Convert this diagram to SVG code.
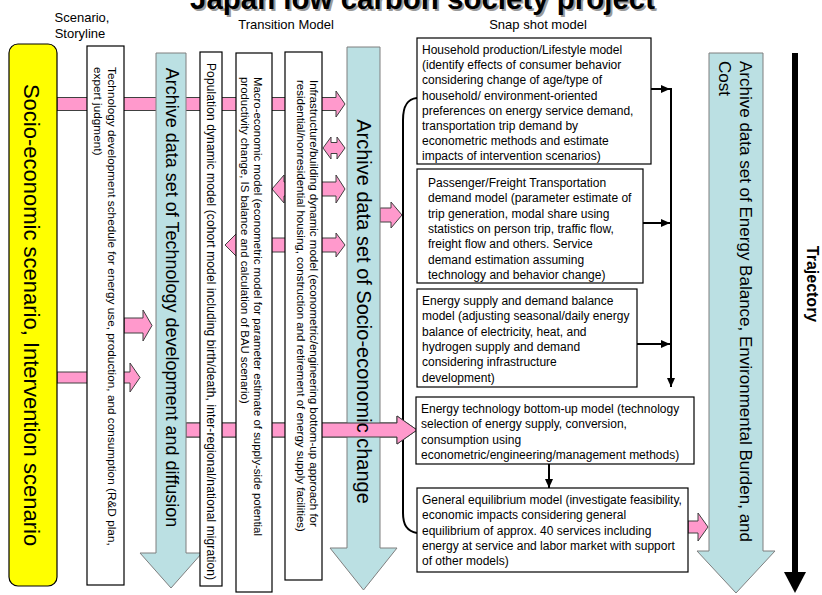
<svg xmlns="http://www.w3.org/2000/svg" width="822" height="595" viewBox="0 0 822 595">
<defs>
<style>
.t{font-family:"Liberation Sans",Arial,sans-serif;fill:#000}
.pk{fill:#FF99CC;stroke:#404040;stroke-width:1}
.tl{fill:#BBE0E3;stroke:#7f7f7f;stroke-width:1}
.wb{fill:#fff;stroke:#000;stroke-width:1.2}
.ln{stroke:#000;stroke-width:2;fill:none}
.bx{font-size:12px}
</style>
<marker id="ah" markerWidth="10" markerHeight="10" refX="9" refY="5" orient="auto" markerUnits="userSpaceOnUse">
<path d="M0,1 L9,5 L0,9 Z" fill="#000"/>
</marker>
</defs>
<rect width="822" height="595" fill="#fff"/>

<g id="title">
<text class="t" x="192" y="11" font-family="DejaVu Sans" font-weight="bold" font-size="30" textLength="465" lengthAdjust="spacingAndGlyphs" style="fill:#9a9a9a">Japan low carbon society project</text>
<text class="t" x="190" y="9" font-family="DejaVu Sans" font-weight="bold" font-size="30" textLength="465" lengthAdjust="spacingAndGlyphs">Japan low carbon society project</text>
</g>

<g id="headers">
<text class="t" x="82" y="22" font-size="13" text-anchor="middle">Scenario,</text>
<text class="t" x="80" y="38" font-size="13" text-anchor="middle">Storyline</text>
<text class="t" x="286" y="29" font-size="13" text-anchor="middle">Transition Model</text>
<text class="t" x="538" y="29" font-size="13" text-anchor="middle">Snap shot model</text>
</g>

<g id="connectors">
<polygon class="pk" points="57,97.5 336,97.5 336,91 345,104 336,117 336,110.5 57,110.5"/>
<polygon class="pk" points="323,148 331,137 331,142.5 337,142.5 337,137 345,148 337,159 337,153.5 331,153.5 331,159"/>
<polygon class="pk" points="272,189 284,175 284,182 336,182 336,175 345,189 336,203 336,196 284,196 284,203"/>
<polygon class="pk" points="225,245 237,233 237,238 336,238 336,233 345,245 336,257 336,252 237,252 237,257"/>
<polygon class="pk" points="124,318 143,318 143,310 152,325.5 143,341 143,333 124,333"/>
<polygon class="pk" points="57,372 130,372 130,363 140,377.5 130,392 130,383 57,383"/>
<polygon id="a7" class="pk" points="186,423 397,423 397,416 417,430 397,444 397,437 186,437"/>
<polygon class="pk" points="380,208 391,208 391,202 402,215 391,228 391,222 380,222"/>
<polygon class="pk" points="688,521 698,521 698,513 708,527 698,541 698,533 688,533"/>

<line class="ln" x1="651" y1="89" x2="670" y2="89" marker-end="url(#ah)"/>
<line class="ln" x1="643" y1="223" x2="670" y2="223" marker-end="url(#ah)"/>
<line class="ln" x1="637" y1="344" x2="670" y2="344" marker-end="url(#ah)"/>
<line class="ln" x1="671" y1="88" x2="671" y2="387" marker-end="url(#ah)"/>
<line class="ln" x1="549" y1="464" x2="549" y2="488" marker-end="url(#ah)"/>
<path class="ln" d="M417,98 C407,99 403,106 403,120 L403,513 C403,525 407,531 417,533"/>
</g>

<g id="archive-socio">
<polygon class="tl" points="347,47 380,47 380,548 397,548 363.5,590 330,548 347,548"/>
<use href="#a7"/>
<text class="t" font-size="20" text-anchor="middle" transform="translate(357,311.5) rotate(90)">Archive data set of Socio-economic change</text>
</g>

<g id="archive-tech">
<polygon class="tl" points="156,53 186,53 186,553 202,553 171,588 140,553 156,553"/>
<text class="t" font-size="18" text-anchor="middle" transform="translate(165.5,297.5) rotate(90)">Archive data set of Technology development and diffusion</text>
</g>

<g id="scenario">
<rect x="9" y="44" width="48" height="542" rx="9" fill="#FFFF00" stroke="#000" stroke-width="1.2"/>
<text class="t" font-size="22" text-anchor="middle" transform="translate(24,315) rotate(90)">Socio-economic scenario, Intervention scenario</text>
</g>

<g id="tech-schedule">
<rect class="wb" x="87" y="46" width="37" height="539"/>
<text class="t" font-size="11.8" transform="translate(108,67) rotate(90)"><tspan x="0" y="0">Technology development schedule for energy use, production, and consumption (R&amp;D plan,</tspan><tspan x="0" y="13.8">expert judgment)</tspan></text>
</g>

<g id="population">
<rect class="wb" x="200" y="52" width="22" height="534"/>
<text class="t" font-size="12" transform="translate(207,63) rotate(90)" textLength="517" lengthAdjust="spacing">Population dynamic model (cohort model including  birth/death, inter-regional/national migration)</text>
</g>

<g id="macro">
<rect class="wb" x="236" y="53" width="36" height="539"/>
<text class="t" font-size="11.4" transform="translate(254,77) rotate(90)"><tspan x="0" y="0">Macro-economic model (econometric model for parameter estimate of supply-side potential</tspan><tspan x="0" y="13.5">productivity change, IS balance and calculation of BAU scenario)</tspan></text>
</g>

<g id="infrastructure">
<rect class="wb" x="285" y="52" width="37" height="528"/>
<text class="t" font-size="11.5" transform="translate(310,80) rotate(90)"><tspan x="0" y="0">Infrastructure/building dynamic model (econometric/engineering bottom-up approach for</tspan><tspan x="0" y="13.5">residential/nonresidential housing, construction and retirement of energy supply facilities)</tspan></text>
</g>

<g id="household">
<rect class="wb" x="417" y="38" width="234" height="126"/>
<text class="t bx"><tspan x="422" y="54">Household production/Lifestyle model</tspan><tspan x="422" y="69.2">(identify effects of consumer behavior</tspan><tspan x="422" y="84.4">considering change of age/type of</tspan><tspan x="422" y="99.6">household/ environment-oriented</tspan><tspan x="422" y="114.8">preferences on energy service demand,</tspan><tspan x="422" y="130">transportation trip demand by</tspan><tspan x="422" y="145.2">econometric methods and estimate</tspan><tspan x="422" y="160.4">impacts of intervention scenarios)</tspan></text>
</g>

<g id="transport">
<rect class="wb" x="417" y="169" width="226" height="114"/>
<text class="t bx"><tspan x="428" y="187">Passenger/Freight Transportation</tspan><tspan x="428" y="202.3">demand model (parameter estimate of</tspan><tspan x="428" y="217.6">trip generation, modal share using</tspan><tspan x="428" y="232.9">statistics on person trip, traffic flow,</tspan><tspan x="428" y="248.2">freight flow and others. Service</tspan><tspan x="428" y="263.5">demand estimation assuming</tspan><tspan x="428" y="278.8">technology and behavior change)</tspan></text>
</g>

<g id="energy-balance-model">
<rect class="wb" x="417" y="289" width="220" height="98"/>
<text class="t bx"><tspan x="422" y="305">Energy supply and demand balance</tspan><tspan x="422" y="320.3">model (adjusting seasonal/daily energy</tspan><tspan x="422" y="335.6">balance of electricity, heat, and</tspan><tspan x="422" y="350.9">hydrogen supply and demand</tspan><tspan x="422" y="366.2">considering infrastructure</tspan><tspan x="422" y="381.5">development)</tspan></text>
</g>

<g id="energy-tech">
<rect class="wb" x="416" y="397" width="278" height="67"/>
<text class="t bx"><tspan x="421" y="413">Energy technology bottom-up model (technology</tspan><tspan x="421" y="428.3">selection of energy supply, conversion,</tspan><tspan x="421" y="443.6">consumption using</tspan><tspan x="421" y="458.9">econometric/engineering/management methods)</tspan></text>
</g>

<g id="general-equilibrium">
<rect class="wb" x="417" y="488" width="271" height="84"/>
<text class="t bx"><tspan x="422" y="504">General equilibrium model (investigate feasibility,</tspan><tspan x="422" y="519.3">economic impacts considering general</tspan><tspan x="422" y="534.6">equilibrium of approx. 40 services including</tspan><tspan x="422" y="549.9">energy at service and labor market with support</tspan><tspan x="422" y="565.2">of other models)</tspan></text>
</g>

<g id="archive-energy">
<polygon class="tl" points="709,53 763,53 763,551 775,551 736,593 697,551 709,551"/>
<text class="t" font-size="17" transform="translate(740,61) rotate(90)"><tspan x="0" y="0">Archive data set of Energy Balance, Environmental Burden, and</tspan><tspan x="0" y="21">Cost</tspan></text>
</g>

<g id="trajectory">
<line x1="795" y1="53" x2="795" y2="574" stroke="#000" stroke-width="6"/>
<polygon points="784,572 806,572 795,593" fill="#000"/>
<text class="t" font-size="16" font-weight="bold" text-anchor="middle" transform="translate(807,284) rotate(90)">Trajectory</text>
</g>
</svg>
